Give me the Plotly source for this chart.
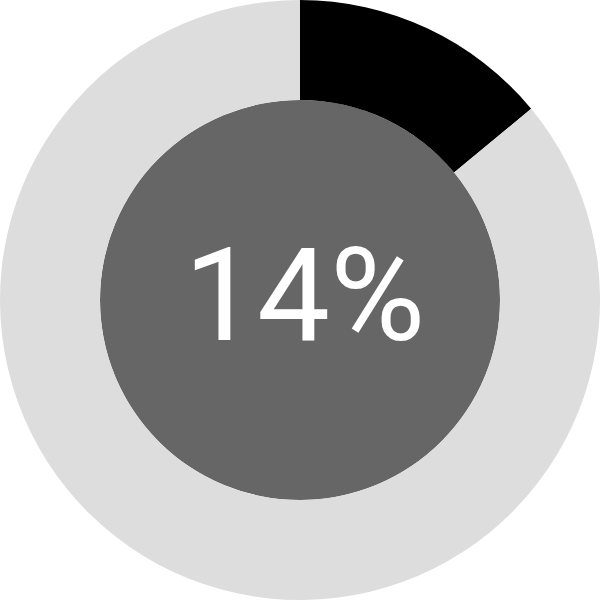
import plotly.graph_objects as go

# 数据
labels = ['完成', '剩余']
values = [14, 86]
colors = ['#000000', '#dddddd']
center_text = '14%'

fig = go.Figure()
fig.add_trace(go.Pie(
    labels=labels,
    values=values,
    hole=2 / 3,
    sort=False,
    direction='clockwise',
    rotation=0,
    marker=dict(colors=colors, line=dict(width=0)),
    textinfo='none',
    hoverinfo='none',
    showlegend=False,
))

# 中间的灰色圆
fig.add_shape(type='circle', xref='paper', yref='paper',
              x0=1 / 6, x1=5 / 6, y0=1 / 6, y1=5 / 6,
              fillcolor='#666666', line=dict(width=0), layer='below')

fig.add_annotation(text=center_text, x=0.508, y=0.508, xref='paper', yref='paper',
                   showarrow=False,
                   font=dict(family='Roboto', size=130, color='#ffffff'))

fig.update_layout(width=600, height=600,
                  margin=dict(l=0, r=0, t=0, b=0),
                  paper_bgcolor='#ffffff', plot_bgcolor='#ffffff')

fig.write_html('out.html', config={'displayModeBar': False},
               post_script="document.body.style.margin='0';")
